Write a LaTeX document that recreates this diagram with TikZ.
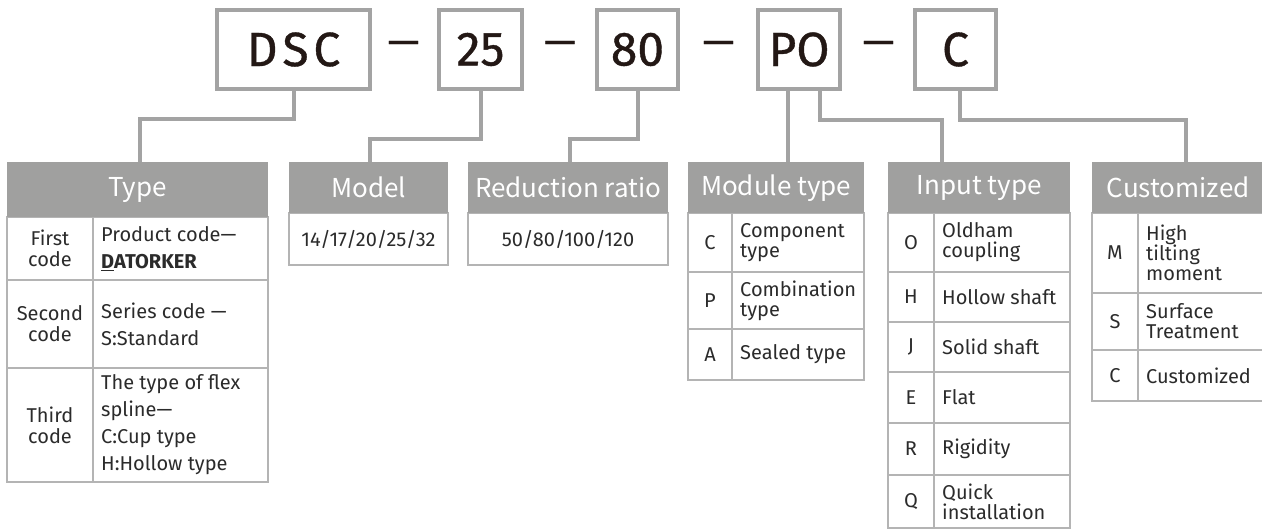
\documentclass[tikz,border=0pt]{standalone}
\usepackage{fontspec}
\setmainfont{Fira Sans}
\newfontfamily\hdrfont{Noto Sans CJK SC}
\newfontfamily\codefont[FakeBold=0.8]{Fira Sans}
\definecolor{hdrgray}{HTML}{A0A09F}
\definecolor{linegray}{HTML}{A3A3A3}
\definecolor{cellgray}{HTML}{B4B4B4}
\definecolor{ink}{HTML}{231815}
\definecolor{bodyink}{HTML}{2B2B2B}
\tikzset{
  codebox/.style={draw=linegray, line width=4pt, inner sep=0pt, fill=white,
    font=\codefont\fontsize{48}{48}\selectfont, text=ink},
  dashtext/.style={font=\codefont\fontsize{40}{40}\selectfont, text=ink, inner sep=0pt},
  conn/.style={draw=linegray, line width=4pt},
  hdr/.style={fill=hdrgray, draw=none, text=white,
    font=\hdrfont\fontsize{26}{26}\selectfont, anchor=north west, inner sep=0pt},
  cell/.style={draw=cellgray, line width=2pt},
  keytext/.style={font=\fontsize{20}{21}\selectfont, text=bodyink, inner sep=0pt, align=center},
  desctext/.style={font=\fontsize{20}{20}\selectfont, text=bodyink, inner sep=0pt,
    align=left, anchor=west},
  looser/.style={font=\fontsize{20}{27}\selectfont},
}
\newcommand{\mkrow}[9]{%
  \draw[cell] (#2,#5) rectangle (#4,#6) (#3,#5) -- (#3,#6);
  \node[keytext] (#1k) at ({(#2+#3)/2},{(#5+#6)/2}) {#7};
  \node[desctext,#9] (#1d) at ({#3+8},{(#5+#6)/2}) {#8};}
\begin{document}
\begin{tikzpicture}[x=1pt,y=-1pt]
\useasboundingbox (0,0) rectangle (1262,532);
% top code boxes
\node[codebox, minimum width=153pt, minimum height=79pt] (dsc) at (293.5,49.5) {\addfontfeature{LetterSpace=10}DSC};
\node[codebox, minimum width=83pt, minimum height=79pt] (m25) at (480.5,49.5) {25};
\node[codebox, minimum width=81pt, minimum height=79pt] (m80) at (637.5,49.5) {80};
\node[codebox, minimum width=82pt, minimum height=79pt] (po) at (799,49.5) {PO};
\node[codebox, minimum width=81pt, minimum height=79pt] (cc) at (955.5,49.5) {C};
\node[dashtext] (d1) at (403.5,48) {—};
\node[dashtext] (d2) at (560,48) {—};
\node[dashtext] (d3) at (718.5,48) {—};
\node[dashtext] (d4) at (878.5,48) {—};
% Type
\mkrow{t1}{7}{93}{268}{217}{280}{First\\code}{Product code—\\\textbf{\underline{D}ATORKER}}{looser}
\mkrow{t2}{7}{93}{268}{280}{368}{Second\\code}{Series code —\\S:Standard}{looser}
\mkrow{t3}{7}{93}{268}{368}{482}{Third\\code}{The type of flex\\spline—\\C:Cup type\\H:Hollow type}{looser}
% Model & ratio
\draw[cell] (289,213) rectangle (448,265);
\node[keytext] (modelv) at (368.5,239) {14/17/20/25/32};
\draw[cell] (468,213) rectangle (668,265);
\node[keytext] (ratiov) at (568,239) {50/80/100/120};
% Module type
\mkrow{m1}{688}{732}{864}{213}{272}{C}{Component\\type}{}
\mkrow{m2}{688}{732}{864}{272}{329}{P}{Combination\\type}{}
\mkrow{m3}{688}{732}{864}{329}{380}{A}{Sealed type}{}
% Input type
\mkrow{i1}{888}{934}{1070}{213}{272}{O}{Oldham\\coupling}{}
\mkrow{i2}{888}{934}{1070}{272}{322}{H}{Hollow shaft}{}
\mkrow{i3}{888}{934}{1070}{322}{372}{J}{Solid shaft}{}
\mkrow{i4}{888}{934}{1070}{372}{423}{E}{Flat}{}
\mkrow{i5}{888}{934}{1070}{423}{475}{R}{Rigidity}{}
\mkrow{i6}{888}{934}{1070}{475}{528}{Q}{Quick\\installation}{}
% Customized
\mkrow{c1}{1092}{1138}{1264}{213}{293}{M}{High\\tilting\\moment}{}
\mkrow{c2}{1092}{1138}{1264}{293}{350}{S}{Surface\\Treatment}{}
\mkrow{c3}{1092}{1138}{1264}{350}{401}{C}{Customized}{}
% headers
\node[hdr, minimum width=261pt, minimum height=55pt] (typeh) at (7,162) {Type};
\node[hdr, minimum width=159pt, minimum height=51pt] (modelh) at (289,162) {Model};
\node[hdr, minimum width=200pt, minimum height=51pt] (ratioh) at (468,162) {Reduction ratio};
\node[hdr, minimum width=176pt, minimum height=51pt] (modh) at (688,162) {Module type};
\node[hdr, minimum width=182pt, minimum height=51pt] (inh) at (888,162) {Input type};
\node[hdr, minimum width=172pt, minimum height=51pt] (cuh) at (1092,162) {Customized};
% connectors
\draw[conn] (dsc.south) -- ++(0,28) -| ([xshift=2.5pt]typeh.north);
\draw[conn] (m25.south) -- ++(0,48) -| ([xshift=1.5pt]modelh.north);
\draw[conn] (m80.south) -- ++(0,48) -| ([xshift=2pt]ratioh.north);
\draw[conn] ([xshift=-11pt]po.south) -- ([xshift=-11pt]po.south |- modh.north);
\draw[conn] ([xshift=21pt]po.south) -- ++(0,29) -| ([xshift=-37pt]inh.north);
\draw[conn] ([xshift=4.5pt]cc.south) -- ++(0,29) -| ([xshift=8pt]cuh.north);
\end{tikzpicture}
\end{document}
